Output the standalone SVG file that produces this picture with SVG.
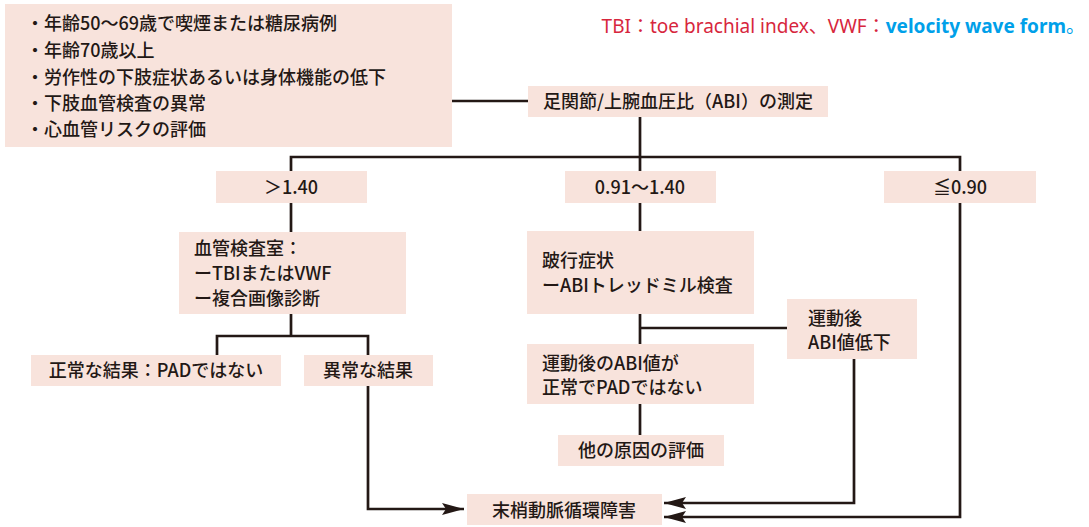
<svg xmlns="http://www.w3.org/2000/svg" width="1089" height="527" viewBox="0 0 1089 527">
<defs>
<style>
.box{fill:#f8e3dc;}
.t{font-family:"Noto Sans CJK JP","Noto Sans",sans-serif;font-size:18px;font-weight:500;fill:#231815;}
.m{text-anchor:middle;}
.ln{fill:none;stroke:#231815;stroke-width:2.7;}
</style>
<marker id="ah" viewBox="0 0 22 12" refX="22" refY="6" markerWidth="22" markerHeight="12" markerUnits="userSpaceOnUse" orient="auto">
<path d="M0,0 L22,6 L0,12 L4,6 Z" fill="#231815"/>
</marker>
</defs>
<rect width="1089" height="527" fill="#ffffff"/>
<text x="1085" y="33" style="font-family:'Noto Sans','Noto Sans CJK JP',sans-serif;font-size:19px;text-anchor:end"><tspan fill="#d7263d">TBI：toe brachial index、VWF：</tspan><tspan fill="#00a0e9" font-weight="bold">velocity wave form</tspan><tspan fill="#00a0e9">。</tspan></text>
<g id="connectors">
<path class="ln" d="M452,101 H528"/>
<path class="ln" d="M640,117 V157 M291,172 V157 H960 V172 M640,157 V172"/>
<path class="ln" d="M291,203 V232"/>
<path class="ln" d="M291,314 V336 M217,355 V336 H368 V355"/>
<path class="ln" d="M368,386 V509 H464" marker-end="url(#ah)"/>
<path class="ln" d="M640,203 V231"/>
<path class="ln" d="M640,314 V344 M640,328 H787"/>
<path class="ln" d="M640,404 V435"/>
<path class="ln" d="M854,359 V503 H664" marker-end="url(#ah)"/>
<path class="ln" d="M960,203 V517 H664" marker-end="url(#ah)"/>
</g>
<g id="n-criteria">
<rect class="box" x="5" y="4" width="447" height="143"/>
<text class="t" x="26" y="30">・年齢50～69歳で喫煙または糖尿病例</text>
<text class="t" x="26" y="57">・年齢70歳以上</text>
<text class="t" x="26" y="84">・労作性の下肢症状あるいは身体機能の低下</text>
<text class="t" x="26" y="110">・下肢血管検査の異常</text>
<text class="t" x="26" y="136">・心血管リスクの評価</text>
</g>
<g id="n-abi">
<rect class="box" x="528" y="86" width="300" height="31"/>
<text class="t m" x="678" y="108">足関節/上腕血圧比（ABI）の測定</text>
</g>
<g id="n-gt140">
<rect class="box" x="216" y="171" width="151" height="32"/>
<text class="t m" x="291" y="194">＞1.40</text>
</g>
<g id="n-mid">
<rect class="box" x="565" y="171" width="151" height="32"/>
<text class="t m" x="640" y="194">0.91～1.40</text>
</g>
<g id="n-le090">
<rect class="box" x="884" y="171" width="152" height="32"/>
<text class="t m" x="960" y="194">≦0.90</text>
</g>
<g id="n-vascular">
<rect class="box" x="179" y="232" width="227" height="82"/>
<text class="t" x="194" y="255">血管検査室：</text>
<text class="t" x="194" y="280">ーTBIまたはVWF</text>
<text class="t" x="194" y="305">ー複合画像診断</text>
</g>
<g id="n-normal">
<rect class="box" x="31" y="355" width="250" height="31"/>
<text class="t m" x="156" y="377">正常な結果：PADではない</text>
</g>
<g id="n-abnormal">
<rect class="box" x="304" y="355" width="129" height="31"/>
<text class="t m" x="368" y="377">異常な結果</text>
</g>
<g id="n-claud">
<rect class="box" x="527" y="231" width="227" height="83"/>
<text class="t" x="542" y="267">跛行症状</text>
<text class="t" x="542" y="292">ーABIトレッドミル検査</text>
</g>
<g id="n-postlow">
<rect class="box" x="787" y="299" width="130" height="60"/>
<text class="t" x="808" y="325">運動後</text>
<text class="t" x="808" y="349">ABI値低下</text>
</g>
<g id="n-postnormal">
<rect class="box" x="527" y="344" width="227" height="60"/>
<text class="t" x="542" y="370">運動後のABI値が</text>
<text class="t" x="542" y="394">正常でPADではない</text>
</g>
<g id="n-other">
<rect class="box" x="558" y="435" width="166" height="31"/>
<text class="t m" x="641" y="457">他の原因の評価</text>
</g>
<g id="n-pad">
<rect class="box" x="467" y="494" width="195" height="31"/>
<text class="t m" x="564" y="517">末梢動脈循環障害</text>
</g>
</svg>
